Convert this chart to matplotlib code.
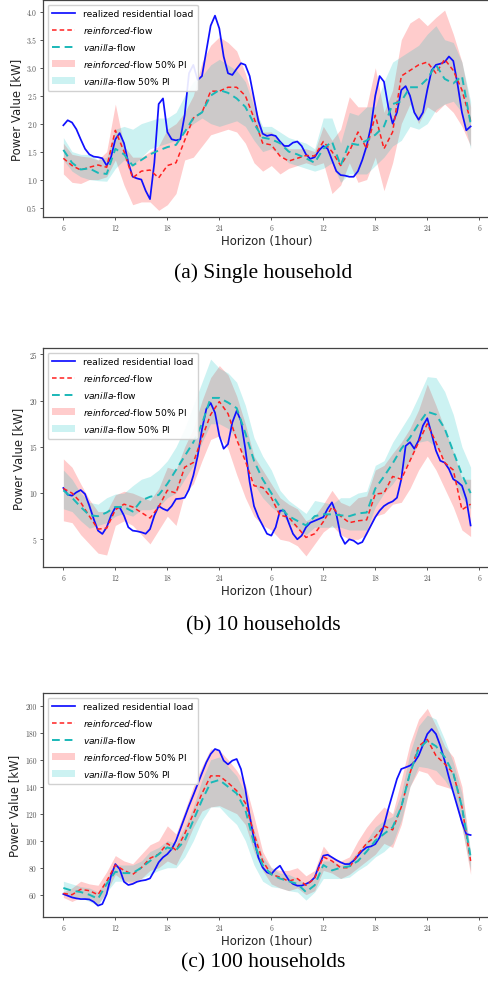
import numpy as np
import matplotlib.pyplot as plt

# hours after the first 6 o'clock
hours = np.arange(48)
half_hours = np.arange(95) * 0.5
tick_pos = [0, 6, 12, 18, 24, 30, 36, 42, 48]
tick_labels = ["6", "12", "18", "24", "6", "12", "18", "24", "6"]

# ---- (a) single household ----
real_a = [1.97, 2.06, 2.02, 1.9, 1.72, 1.55, 1.45, 1.41, 1.40, 1.38, 1.25, 1.4, 1.72, 1.83, 1.65, 1.3,
          1.05, 1.02, 1.0, 0.8, 0.65, 1.3, 2.35, 2.45, 1.85, 1.72, 1.7, 1.72, 2.15, 2.9, 3.05, 2.78,
          2.85, 3.3, 3.75, 3.93, 3.7, 3.2, 2.9, 2.87, 2.98, 3.08, 3.05, 2.85, 2.45, 2.05, 1.82, 1.78,
          1.8, 1.78, 1.68, 1.6, 1.6, 1.66, 1.68, 1.6, 1.45, 1.37, 1.4, 1.52, 1.6, 1.55, 1.35, 1.15,
          1.08, 1.07, 1.05, 1.05, 1.15, 1.35, 1.6, 1.95, 2.5, 2.85, 2.75, 2.3, 2.0, 2.2, 2.6, 2.67,
          2.5, 2.2, 2.07, 2.2, 2.6, 2.95, 3.05, 3.07, 3.1, 3.2, 3.12, 2.7, 2.2, 1.88, 1.95]
reinf_a = [1.38, 1.25, 1.17, 1.22, 1.26, 1.22, 1.88, 1.5, 1.03, 1.15, 1.17, 1.03, 1.25, 1.3, 1.7, 2.1,
           2.2, 2.58, 2.58, 2.65, 2.65, 2.5, 2.1, 1.65, 1.62, 1.42, 1.33, 1.38, 1.43, 1.42, 1.68, 1.5,
           1.25, 1.5, 1.85, 1.55, 2.15, 1.55, 1.85, 2.85, 2.95, 3.05, 3.1, 2.9, 3.15, 2.95, 2.6, 2.05]
van_a = [1.53, 1.3, 1.18, 1.2, 1.12, 1.1, 1.55, 1.45, 1.25, 1.35, 1.45, 1.52, 1.58, 1.62, 1.85, 2.1,
         2.2, 2.5, 2.6, 2.55, 2.45, 2.3, 2.0, 1.75, 1.72, 1.65, 1.5, 1.45, 1.38, 1.3, 1.55, 1.68,
         1.25, 1.65, 1.62, 1.7, 1.8, 1.95, 2.35, 2.4, 2.65, 2.65, 2.8, 3.05, 2.8, 2.72, 2.85, 2.0]
reinf_lo_a = [1.1, 0.95, 0.93, 1.0, 1.0, 1.05, 1.35, 0.9, 0.55, 0.6, 0.6, 0.45, 0.55, 0.75, 1.35, 1.4,
              1.6, 1.8, 1.85, 1.9, 1.85, 1.65, 1.3, 1.15, 1.25, 1.1, 1.2, 1.25, 1.3, 1.25, 1.3, 0.75,
              0.9, 1.3, 0.95, 1.0, 1.4, 0.8, 1.3, 2.0, 2.35, 2.0, 2.3, 2.2, 2.35, 2.2, 1.95, 1.6]
reinf_hi_a = [1.65, 1.45, 1.42, 1.4, 1.35, 1.5, 2.35, 1.6, 1.4, 1.4, 1.5, 1.6, 1.9, 2.0, 2.2, 2.5,
              3.1, 3.4, 3.55, 3.45, 3.3, 2.9, 2.4, 1.85, 1.85, 1.7, 1.55, 1.55, 1.55, 1.5, 1.95, 1.7,
              1.9, 2.48, 2.3, 2.3, 3.0, 2.2, 2.6, 3.5, 3.8, 3.9, 3.75, 3.9, 4.03, 3.6, 3.1, 2.3]
van_lo_a = [1.35, 1.15, 1.05, 1.0, 0.98, 0.97, 1.2, 1.35, 1.25, 1.4, 1.55, 1.6, 1.65, 1.7, 1.85, 2.0,
            2.1, 2.0, 1.95, 2.0, 2.05, 1.95, 1.7, 1.5, 1.55, 1.45, 1.3, 1.25, 1.2, 1.15, 1.2, 1.3,
            0.95, 1.1, 1.1, 1.1, 1.25, 1.4, 1.6, 1.7, 1.95, 1.9, 2.0, 2.25, 2.35, 2.4, 2.2, 1.55]
van_hi_a = [1.75, 1.5, 1.45, 1.45, 1.35, 1.4, 1.9, 1.95, 1.9, 2.0, 2.05, 2.1, 2.1, 2.2, 2.5, 2.75,
            2.85, 3.05, 3.15, 3.05, 2.95, 2.75, 2.3, 1.95, 1.95, 1.85, 1.75, 1.7, 1.65, 1.55, 2.1, 2.1,
            1.65, 2.2, 2.15, 2.3, 2.3, 2.75, 3.1, 3.2, 3.3, 3.4, 3.6, 3.75, 3.5, 3.45, 3.1, 2.4]

# ---- (b) 10 households ----
real_b = [10.55, 9.83, 9.72, 10.08, 10.33, 9.9, 8.64, 7.2, 5.94, 5.58, 6.3, 7.56, 8.46, 8.46, 7.56, 6.3,
          5.94, 5.87, 5.76, 5.6, 6.1, 7.56, 8.6, 8.3, 8.1, 8.6, 9.36, 9.4, 9.5, 10.4, 11.9, 14.0,
          16.9, 19.1, 19.75, 18.7, 16.2, 14.8, 15.3, 17.65, 18.9, 17.8, 14.8, 11.2, 8.6, 7.4, 6.5, 5.6,
          5.4, 6.3, 8.1, 8.1, 6.8, 5.6, 5.0, 5.4, 6.3, 6.8, 7.0, 7.2, 7.4, 8.3, 9.0, 7.74,
          5.4, 4.5, 5.0, 4.85, 4.5, 4.7, 5.6, 6.5, 7.4, 8.1, 8.6, 8.9, 9.1, 9.5, 11.5, 15.1,
          15.5, 14.8, 15.7, 17.3, 18.1, 16.4, 14.6, 13.5, 13.3, 12.6, 11.5, 11.2, 10.8, 9.36, 6.5]
reinf_b = [10.5, 10.0, 9.0, 7.5, 6.1, 6.2, 8.2, 8.8, 8.5, 7.9, 7.3, 8.5, 10.3, 10.0, 12.8, 13.3,
           16.0, 18.5, 19.9, 18.6, 15.8, 13.5, 10.8, 10.6, 9.5, 7.6, 7.4, 6.3, 5.2, 5.6, 6.9, 8.5,
           7.5, 6.8, 7.0, 7.1, 9.9, 10.0, 11.8, 11.5, 13.5, 15.5, 17.5, 15.5, 13.3, 12.5, 8.2, 8.8]
van_b = [10.3, 9.5, 8.5, 7.6, 7.5, 7.9, 8.5, 8.5, 8.0, 9.2, 9.6, 9.8, 11.0, 12.5, 14.0, 15.5,
         17.5, 20.3, 20.3, 19.8, 19.2, 16.5, 13.5, 11.5, 10.0, 8.5, 7.5, 7.0, 6.5, 7.5, 7.7, 7.7,
         7.6, 7.5, 7.8, 7.9, 10.5, 11.8, 13.2, 14.8, 16.0, 17.5, 18.8, 18.5, 17.0, 14.5, 12.0, 10.0]
reinf_lo_b = [7.0, 6.8, 5.5, 4.5, 3.5, 3.3, 6.5, 7.0, 6.5, 5.5, 4.5, 6.0, 7.5, 6.5, 10.0, 11.0,
              13.5, 15.8, 16.2, 14.8, 12.0, 9.5, 7.5, 6.5, 6.0, 5.0, 4.8, 4.3, 3.2, 4.5, 5.8, 6.5,
              5.5, 5.0, 5.0, 5.5, 7.5, 7.8, 8.8, 9.0, 10.5, 12.5, 14.0, 12.5, 10.5, 8.5, 6.0, 5.3]
reinf_hi_b = [13.7, 12.8, 11.0, 9.3, 8.0, 8.0, 9.8, 10.2, 10.0, 9.6, 9.2, 10.5, 12.8, 12.5, 15.0, 17.0,
              20.0, 22.5, 23.8, 22.8, 20.5, 17.5, 14.0, 12.5, 11.0, 9.5, 8.8, 8.3, 7.0, 7.5, 8.8, 10.3,
              9.0, 8.6, 9.5, 9.7, 12.5, 13.0, 14.3, 15.5, 17.0, 19.0, 21.8, 19.5, 17.0, 14.5, 11.5, 11.5]
van_lo_b = [8.3, 8.0, 7.0, 6.2, 6.5, 6.8, 7.5, 7.8, 7.5, 8.2, 8.2, 8.5, 9.5, 10.0, 11.5, 13.0,
            15.5, 17.5, 17.5, 17.0, 16.0, 13.5, 11.0, 9.5, 8.5, 7.8, 6.8, 6.2, 5.5, 6.3, 6.3, 6.3,
            6.3, 6.0, 6.0, 6.0, 8.5, 10.0, 11.0, 12.3, 13.5, 15.5, 15.7, 15.0, 13.5, 11.5, 9.5, 8.3]
van_hi_b = [12.5, 11.5, 10.0, 9.0, 8.8, 9.5, 9.9, 10.0, 10.8, 11.5, 11.8, 12.5, 13.5, 15.0, 17.0, 19.5,
            22.0, 24.5, 23.5, 23.0, 22.0, 19.5, 16.0, 14.0, 12.5, 10.3, 9.2, 8.5, 7.8, 9.2, 9.0, 8.8,
            9.5, 9.5, 10.0, 10.2, 13.0, 13.5, 15.5, 17.0, 18.5, 20.5, 22.6, 22.5, 21.0, 18.5, 15.0, 12.8]

# ---- (c) 100 households ----
real_c = [60.5, 59.3, 58, 57.3, 56.8, 56.8, 56.5, 54.8, 51.9, 53.1, 60.5, 74, 82.7, 79, 69.6, 67.2,
          68, 69.6, 70.4, 70.9, 72.1, 77.8, 84, 87.7, 90.1, 93.8, 100, 108.6, 117.3, 125.9, 133.8, 142,
          150.1, 158, 164.2, 167.9, 166.7, 159.3, 156.5, 159.3, 160.5, 153, 138.3, 118.5, 101.2, 87.7, 80.2, 76.5,
          75.3, 79, 81.5, 76, 70.9, 68, 66.7, 66.7, 68, 69.6, 72.8, 81.5, 88.9, 89.6, 87.7, 85.7,
          84, 82.7, 82.7, 85.2, 88.9, 92.6, 95.1, 95.8, 97.5, 102.5, 111.1, 123.5, 134.6, 145.7, 153.1, 154.3,
          155.6, 158, 163, 170.9, 179, 182.7, 179, 170.4, 159.3, 146.9, 135.8, 124.7, 113.6, 104.9, 104.2]
reinf_c = [61, 60, 64, 63, 60, 70, 82, 78, 75, 80, 87, 90, 98, 93, 105, 120,
           135, 148, 148, 143, 137, 128, 105, 85, 75, 73, 70, 72, 67, 72, 88, 85,
           80, 80, 90, 98, 103, 111, 108, 125, 150, 170, 175, 163, 157, 150, 125, 85]
van_c = [65, 63, 62, 60, 57, 68, 77, 76, 76, 80, 85, 90, 95, 93, 100, 115,
         130, 143, 145, 140, 135, 123, 98, 82, 75, 72, 70, 68, 62, 67, 82, 78,
         80, 81, 85, 92, 100, 105, 110, 125, 150, 168, 174, 170, 162, 150, 125, 88]
reinf_lo_c = [58, 55, 58, 57, 53, 62, 75, 70, 68, 72, 78, 80, 85, 82, 95, 110,
              122, 125, 126, 123, 120, 112, 92, 78, 68, 65, 63, 65, 60, 63, 78, 76,
              72, 75, 80, 85, 90, 98, 95, 112, 140, 152, 150, 142, 140, 138, 110, 75]
reinf_hi_c = [62, 65, 70, 68, 67, 77, 89, 85, 83, 90, 97, 100, 111, 105, 122, 140,
              155, 168, 167, 160, 152, 142, 118, 92, 80, 78, 78, 80, 74, 78, 96, 88,
              85, 88, 100, 110, 118, 125, 120, 145, 172, 190, 198, 185, 170, 162, 140, 90]
van_lo_c = [60, 58, 58, 55, 52, 62, 70, 70, 70, 72, 75, 78, 80, 80, 88, 100,
            115, 125, 125, 118, 112, 100, 82, 70, 66, 65, 63, 62, 56, 62, 72, 72,
            72, 73, 78, 82, 88, 92, 98, 115, 140, 155, 154, 152, 145, 135, 110, 78]
van_hi_c = [70, 68, 66, 65, 62, 72, 82, 82, 82, 85, 92, 95, 100, 98, 110, 125,
            145, 160, 162, 155, 148, 135, 108, 88, 80, 76, 75, 72, 68, 72, 85, 85,
            82, 85, 92, 100, 110, 115, 118, 135, 165, 185, 193, 190, 175, 158, 135, 92]

panels = [
    (real_a, reinf_a, van_a, reinf_lo_a, reinf_hi_a, van_lo_a, van_hi_a,
     [0.5, 1.0, 1.5, 2.0, 2.5, 3.0, 3.5, 4.0], (0.33, 4.21), "(a) Single household"),
    (real_b, reinf_b, van_b, reinf_lo_b, reinf_hi_b, van_lo_b, van_hi_b,
     [5, 10, 15, 20, 25], (2.0, 25.7), "(b) 10 households"),
    (real_c, reinf_c, van_c, reinf_lo_c, reinf_hi_c, van_lo_c, van_hi_c,
     [60, 80, 100, 120, 140, 160, 180, 200], (43.5, 209.4), "(c) 100 households"),
]

fig = plt.figure(figsize=(4.88, 9.87), dpi=100)
ax_boxes = [[0.0881, 0.7791, 0.918, 0.2199],
            [0.0881, 0.4245, 0.918, 0.2219],
            [0.0881, 0.0699, 0.918, 0.2270]]
caption_y = [1 - 273 / 987, 1 - 626 / 987, 1 - 963 / 987]

for i, (real, reinf, van, r_lo, r_hi, v_lo, v_hi, yt, ylim, cap) in enumerate(panels):
    ax = fig.add_axes(ax_boxes[i])
    ax.plot(half_hours, real, color="#1010ff", lw=1.25, label="realized residential load")
    ax.plot(hours, reinf, "--", color="#ff2020", lw=1.1, dashes=(3, 2), label=r"$\mathit{reinforced}$-flow")
    ax.plot(hours, van, "--", color="#1ab8b8", lw=1.4, dashes=(4, 2.5), label=r"$\mathit{vanilla}$-flow")
    ax.fill_between(hours, r_lo, r_hi, color="red", alpha=0.2, lw=0,
                    label=r"$\mathit{reinforced}$-flow 50% PI")
    ax.fill_between(hours, v_lo, v_hi, color="c", alpha=0.2, lw=0,
                    label=r"$\mathit{vanilla}$-flow 50% PI")
    ax.set_xlim(-2.35, 49.35)
    ax.set_ylim(*ylim)
    ax.set_xticks(tick_pos)
    ax.set_xticklabels(tick_labels, fontfamily="cmr10", fontsize=5.5, color="#555555")
    ax.set_yticks(yt)
    fmt = "{:.1f}" if i == 0 else "{:d}"
    ax.set_yticklabels([fmt.format(v) for v in yt], fontfamily="cmr10", fontsize=5.5, color="#555555")
    ax.tick_params(length=2.5, width=0.7, colors="#555555", pad=2)
    for s in ax.spines.values():
        s.set_color("#444444")
        s.set_linewidth(0.9)
    ax.set_xlabel("Horizon (1hour)", fontsize=8.4, color="#222222", labelpad=2)
    ax.set_ylabel("Power Value [kW]", fontsize=8.4, color="#222222", labelpad=3)
    ax.legend(loc="upper left", fontsize=6.6, frameon=True, framealpha=0.9, edgecolor="#cccccc",
              handlelength=2.5, handleheight=0.8, handletextpad=0.9, borderpad=0.5,
              labelspacing=0.65, fancybox=True, borderaxespad=0.5)
    fig.text(263 / 488, caption_y[i], cap, ha="center", va="center",
             fontfamily="Liberation Serif", fontsize=15.5)

fig.savefig("out.png", dpi=100)
